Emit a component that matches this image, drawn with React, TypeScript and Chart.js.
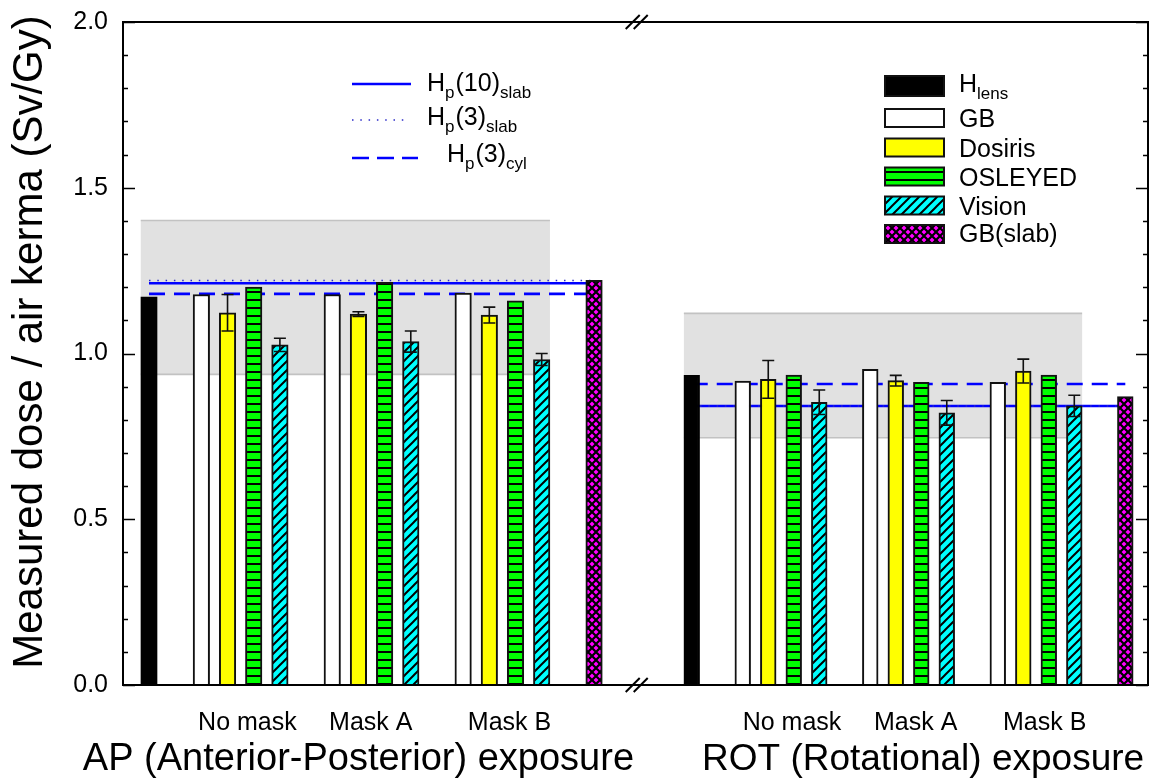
import React, { useEffect, useRef } from 'react';
import { Chart, registerables } from 'chart.js';

Chart.register(...registerables);

// ---------------- data ----------------
const exposureLabels = ['AP (Anterior-Posterior) exposure', 'ROT (Rotational) exposure'];
const maskLabels = ['No mask', 'Mask A', 'Mask B'];
const yTickValues = [0, 0.5, 1.0, 1.5, 2.0];

const hLensValues = [1.171, 0.934];
const gbSlabValues = [1.221, 0.87];
const gbValuesAP = [1.178, 1.178, 1.182];
const gbValuesROT = [0.917, 0.952, 0.913];
const dosirisValuesAP = [1.123, 1.119, 1.116];
const dosirisValuesROT = [0.922, 0.918, 0.947];
const dosirisErrAP = [0.055, 0.007, 0.024];
const dosirisErrROT = [0.057, 0.016, 0.036];
const osleyedValuesAP = [1.2, 1.215, 1.159];
const osleyedValuesROT = [0.935, 0.913, 0.935];
const visionValuesAP = [1.026, 1.036, 0.982];
const visionValuesROT = [0.853, 0.821, 0.842];
const visionErrAP = [0.02, 0.032, 0.018];
const visionErrROT = [0.037, 0.037, 0.032];

const hp10SlabValues = [1.212, 0.842];
const hp3SlabValues = [1.22, 0.842];
const hp3CylValues = [1.18, 0.908];
const bandLowValues = [0.937, 0.746];
const bandHighValues = [1.401, 1.121];

const barLegendLabels = [
  [{ t: 'H' }, { t: 'lens', sub: true }],
  [{ t: 'GB' }],
  [{ t: 'Dosiris' }],
  [{ t: 'OSLEYED' }],
  [{ t: 'Vision' }],
  [{ t: 'GB(slab)' }],
];
const lineLegendLabels = [
  [{ t: 'H' }, { t: 'p', sub: true }, { t: '(10)' }, { t: 'slab', sub: true }],
  [{ t: 'H' }, { t: 'p', sub: true }, { t: '(3)' }, { t: 'slab', sub: true }],
  [{ t: 'H' }, { t: 'p', sub: true }, { t: '(3)' }, { t: 'cyl', sub: true }],
];

const gbValues = [gbValuesAP, gbValuesROT];
const dosirisValues = [dosirisValuesAP, dosirisValuesROT];
const dosirisErr = [dosirisErrAP, dosirisErrROT];
const osleyedValues = [osleyedValuesAP, osleyedValuesROT];
const visionValues = [visionValuesAP, visionValuesROT];
const visionErr = [visionErrAP, visionErrROT];

// ---------------- layout / style ----------------
const FONT = '"Liberation Sans", Arial, Helvetica, sans-serif';
const AXES = ['xAP', 'xROT'];
const BAR_W = [16.5, 15.7];
const HLENS_SLOT = 0;
const FIRST_SLOT = 2;
const STRIDE = 5;
const SLAB_SLOT = 17;
const BLUE = '#0000ff';
const maskLabelSlots = [
  [3.76, 8.47, 13.77],
  [3.93, 8.78, 13.84],
];
const exposureLabelSlots = [8.0, 9.07];
const exposureFont = [38, 37];
const BREAK_SLOT_AP = 18.63;

function makePattern(size: number, draw: (c: CanvasRenderingContext2D) => void) {
  const cv = document.createElement('canvas');
  cv.width = size;
  cv.height = size;
  const c = cv.getContext('2d')!;
  draw(c);
  return c.createPattern(cv, 'repeat')!;
}

function drawRich(ctx: CanvasRenderingContext2D, parts: any[], x: number, y: number, main: number, sub: number) {
  let cx = x;
  for (const p of parts) {
    ctx.font = `${p.sub ? sub : main}px ${FONT}`;
    ctx.fillText(p.t, cx, p.sub ? y + 7 : y);
    cx += ctx.measureText(p.t).width + (p.sub ? 1 : 0);
  }
}

export default function App() {
  const ref = useRef<HTMLCanvasElement>(null);

  useEffect(() => {
    const canvas = ref.current!;

    const stripes = makePattern(8, (c) => {
      c.fillStyle = '#00ff00';
      c.fillRect(0, 0, 8, 8);
      c.fillStyle = '#000';
      c.fillRect(0, 3, 8, 2);
    });
    const hatch = makePattern(9, (c) => {
      c.fillStyle = '#00ffff';
      c.fillRect(0, 0, 9, 9);
      c.strokeStyle = '#000';
      c.lineWidth = 2;
      c.beginPath();
      c.moveTo(-1, 10);
      c.lineTo(10, -1);
      c.moveTo(-2, 2);
      c.lineTo(2, -2);
      c.moveTo(7, 11);
      c.lineTo(11, 7);
      c.stroke();
    });
    const cross = makePattern(8, (c) => {
      c.fillStyle = '#ff00ff';
      c.fillRect(0, 0, 8, 8);
      c.strokeStyle = '#000';
      c.lineWidth = 2.2;
      c.beginPath();
      c.moveTo(-1, -1);
      c.lineTo(9, 9);
      c.moveTo(9, -1);
      c.lineTo(-1, 9);
      c.stroke();
    });

    const seriesFill = ['#000000', '#ffffff', '#ffff00', stripes, hatch, cross];

    const datasets: any[] = [];
    for (let e = 0; e < 2; e++) {
      const common = {
        type: 'bar',
        xAxisID: AXES[e],
        yAxisID: 'y',
        grouped: false,
        barThickness: BAR_W[e],
        borderWidth: 2,
        borderColor: '#111',
        borderSkipped: 'start',
        order: 0,
      };
      datasets.push({ ...common, label: 'H lens', backgroundColor: '#000', borderColor: '#000', data: [{ x: HLENS_SLOT, y: hLensValues[e] }] });
      const groups = [gbValues[e], dosirisValues[e], osleyedValues[e], visionValues[e]];
      groups.forEach((vals, k) => {
        datasets.push({
          ...common,
          label: String(k),
          backgroundColor: seriesFill[k + 1],
          data: vals.map((v, g) => ({ x: FIRST_SLOT + STRIDE * g + k, y: v })),
        });
      });
      datasets.push({ ...common, label: 'GB slab', backgroundColor: cross, data: [{ x: SLAB_SLOT, y: gbSlabValues[e] }] });

      const lineCommon = {
        type: 'line',
        xAxisID: AXES[e],
        yAxisID: 'y',
        pointRadius: 0,
        fill: false,
        tension: 0,
        order: 1,
      };
      datasets.push({
        ...lineCommon,
        label: 'Hp3slab',
        borderColor: '#2a2ac8',
        borderWidth: 1.5,
        borderDash: [1.5, 6.8],
        data: [{ x: HLENS_SLOT, y: hp3SlabValues[e] }, { x: SLAB_SLOT, y: hp3SlabValues[e] }],
      });
      datasets.push({
        ...lineCommon,
        label: 'Hp10slab',
        borderColor: BLUE,
        borderWidth: 2.5,
        data: [{ x: HLENS_SLOT, y: hp10SlabValues[e] }, { x: SLAB_SLOT, y: hp10SlabValues[e] }],
      });
      datasets.push({
        ...lineCommon,
        label: 'Hp3cyl',
        borderColor: BLUE,
        borderWidth: 2.6,
        borderDash: [16, 9],
        data: [{ x: HLENS_SLOT, y: hp3CylValues[e] }, { x: SLAB_SLOT, y: hp3CylValues[e] }],
      });
    }

    const plugin = {
      id: 'custom',
      beforeDatasetsDraw(chart: any) {
        const ctx = chart.ctx as CanvasRenderingContext2D;
        const y = chart.scales.y;
        for (let e = 0; e < 2; e++) {
          const xs = chart.scales[AXES[e]];
          const x0 = xs.getPixelForValue(HLENS_SLOT) - BAR_W[e] / 2;
          const x1 = xs.getPixelForValue(FIRST_SLOT + STRIDE * 2 + 3) + BAR_W[e] / 2;
          const yt = y.getPixelForValue(bandHighValues[e]);
          const yb = y.getPixelForValue(bandLowValues[e]);
          ctx.save();
          ctx.fillStyle = '#e1e1e1';
          ctx.fillRect(x0, yt, x1 - x0, yb - yt);
          ctx.strokeStyle = '#c2c2c2';
          ctx.lineWidth = 1.6;
          ctx.beginPath();
          ctx.moveTo(x0, yt);
          ctx.lineTo(x1, yt);
          ctx.moveTo(x0, yb);
          ctx.lineTo(x1, yb);
          ctx.stroke();
          ctx.restore();
        }
      },
      afterDatasetsDraw(chart: any) {
        const ctx = chart.ctx as CanvasRenderingContext2D;
        const y = chart.scales.y;
        ctx.save();
        ctx.strokeStyle = '#111';
        ctx.lineWidth = 1.6;
        for (let e = 0; e < 2; e++) {
          const xs = chart.scales[AXES[e]];
          const sets = [
            { vals: dosirisValues[e], errs: dosirisErr[e], k: 1 },
            { vals: visionValues[e], errs: visionErr[e], k: 3 },
          ];
          for (const s of sets) {
            s.vals.forEach((v, g) => {
              const px = xs.getPixelForValue(FIRST_SLOT + STRIDE * g + s.k);
              const yt = y.getPixelForValue(v + s.errs[g]);
              const yb = y.getPixelForValue(v - s.errs[g]);
              ctx.beginPath();
              ctx.moveTo(px, yt);
              ctx.lineTo(px, yb);
              ctx.moveTo(px - 6, yt);
              ctx.lineTo(px + 6, yt);
              ctx.moveTo(px - 6, yb);
              ctx.lineTo(px + 6, yb);
              ctx.stroke();
            });
          }
        }
        ctx.restore();
      },
      afterDraw(chart: any) {
        const ctx = chart.ctx as CanvasRenderingContext2D;
        const a = chart.chartArea;
        const y = chart.scales.y;
        const xAP = chart.scales.xAP;
        const xROT = chart.scales.xROT;
        ctx.save();
        ctx.strokeStyle = '#000';
        ctx.fillStyle = '#000';
        ctx.lineWidth = 2;
        ctx.strokeRect(a.left, a.top, a.right - a.left, a.bottom - a.top);

        // ticks (inward, left and right)
        ctx.lineWidth = 1.5;
        ctx.beginPath();
        for (let i = 0; i <= 20; i++) {
          const v = i / 10;
          const py = Math.round(y.getPixelForValue(v)) + 0.5;
          const len = i % 5 === 0 ? 12 : 5;
          ctx.moveTo(a.left, py);
          ctx.lineTo(a.left + len, py);
          ctx.moveTo(a.right, py);
          ctx.lineTo(a.right - len, py);
        }
        ctx.stroke();

        // y tick labels
        ctx.font = `25px ${FONT}`;
        ctx.textAlign = 'right';
        ctx.textBaseline = 'middle';
        yTickValues.forEach((v) => {
          ctx.fillText(v.toFixed(1), a.left - 15, y.getPixelForValue(v));
        });

        // axis break marks
        const bx = xAP.getPixelForValue(BREAK_SLOT_AP);
        ctx.lineWidth = 2;
        ctx.beginPath();
        for (const by of [a.top, a.bottom]) {
          for (const off of [-4, 4]) {
            ctx.moveTo(bx + off - 7, by + 7);
            ctx.lineTo(bx + off + 7, by - 7);
          }
        }
        ctx.stroke();

        // x labels
        ctx.textAlign = 'center';
        ctx.textBaseline = 'alphabetic';
        const scalesX = [xAP, xROT];
        for (let e = 0; e < 2; e++) {
          ctx.font = `25px ${FONT}`;
          maskLabels.forEach((lab, g) => {
            ctx.fillText(lab, scalesX[e].getPixelForValue(maskLabelSlots[e][g]), 730);
          });
          ctx.font = `${exposureFont[e]}px ${FONT}`;
          ctx.fillText(exposureLabels[e], scalesX[e].getPixelForValue(exposureLabelSlots[e]), 770);
        }

        // y title
        ctx.save();
        ctx.translate(42, 342);
        ctx.rotate(-Math.PI / 2);
        ctx.font = `42px ${FONT}`;
        ctx.fillText('Measured dose / air kerma (Sv/Gy)', 0, 0);
        ctx.restore();

        // line legend
        ctx.textAlign = 'left';
        const lineRows = [84, 120, 158];
        const lineEnds = [411, 406, 418];
        const lineTextX = [427, 427, 447];
        const lineBase = [91, 125, 162];
        const lineStyles = [
          { c: BLUE, w: 2.5, d: [] as number[] },
          { c: '#2a2ac8', w: 1.5, d: [1.5, 6.8] },
          { c: BLUE, w: 2.6, d: [17, 8] },
        ];
        lineRows.forEach((ry, i) => {
          ctx.save();
          ctx.strokeStyle = lineStyles[i].c;
          ctx.lineWidth = lineStyles[i].w;
          ctx.setLineDash(lineStyles[i].d);
          ctx.beginPath();
          ctx.moveTo(352, ry);
          ctx.lineTo(lineEnds[i], ry);
          ctx.stroke();
          ctx.restore();
          drawRich(ctx, lineLegendLabels[i], lineTextX[i], lineBase[i], 25, 17);
        });

        // bar legend
        const boxRows = [86, 118, 147.5, 176.5, 205.5, 234];
        const boxH = [20, 18, 18, 18, 18, 18];
        const textBase = [92, 127, 156.5, 185.5, 214.5, 242];
        boxRows.forEach((cy, i) => {
          const h = boxH[i];
          ctx.fillStyle = seriesFill[i] as any;
          ctx.fillRect(885, cy - h / 2, 59, h);
          ctx.strokeStyle = '#111';
          ctx.lineWidth = 2;
          ctx.strokeRect(885, cy - h / 2, 59, h);
          ctx.fillStyle = '#000';
          drawRich(ctx, barLegendLabels[i], 959, textBase[i], 25, 17);
        });
        ctx.restore();
      },
    };

    const chart = new Chart(canvas, {
      type: 'bar',
      data: { datasets },
      options: {
        animation: false,
        responsive: false,
        devicePixelRatio: 1,
        events: [],
        layout: { padding: { left: 123, right: 2, top: 22, bottom: 99 } },
        plugins: { legend: { display: false }, tooltip: { enabled: false } },
        scales: {
          xAP: { type: 'linear', axis: 'x', display: false, offset: false, grid: { offset: false }, min: -0.993, max: 38.16 },
          xROT: { type: 'linear', axis: 'x', display: false, offset: false, grid: { offset: false }, min: -22.3, max: 17.89 },
          y: { type: 'linear', display: false, min: 0, max: 2 },
        },
      } as any,
      plugins: [plugin],
    } as any);

    return () => chart.destroy();
  }, []);

  return (
    <div style={{ position: 'fixed', left: 0, top: 0, width: 1150, height: 784, background: '#fff' }}>
      <canvas ref={ref} width={1150} height={784} style={{ display: 'block', width: 1150, height: 784 }} />
    </div>
  );
}
